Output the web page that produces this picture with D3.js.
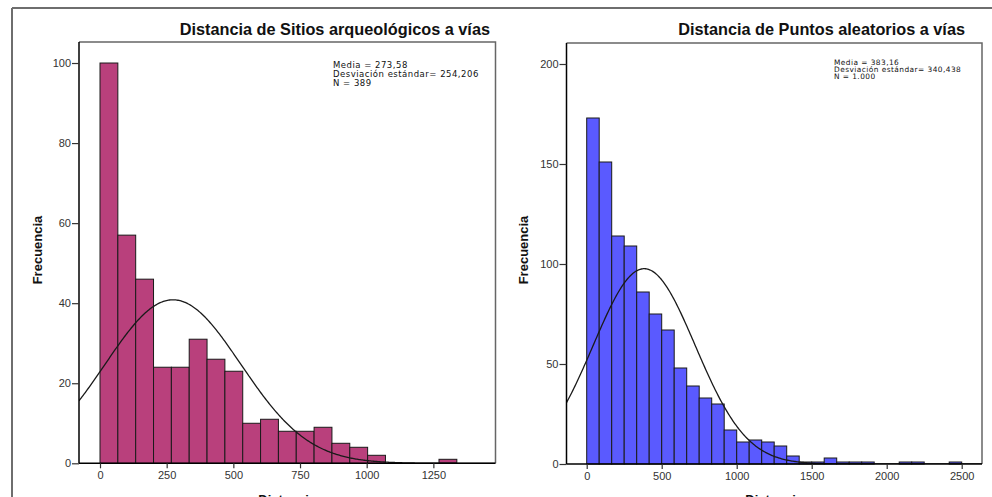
<!DOCTYPE html>
<html><head><meta charset="utf-8">
<script src="https://cdn.jsdelivr.net/npm/d3@7"></script>
<style>
html,body{margin:0;padding:0;background:#fff;}
svg{display:block;font-family:"Liberation Sans",Arial,sans-serif;}
</style></head>
<body>
<svg id="c" width="992" height="497"></svg>
<script>
// ---- data ----
const leftTitle = "Distancia de Sitios arqueológicos a vías";
const rightTitle = "Distancia de Puntos aleatorios a vías";
const leftCounts = [100,57,46,24,24,31,26,23,10,11,8,8,9,5,4,2,0,0,0,1];
const leftBinWidth = 66.9;
const leftStats = {mean:273.58, sd:254.206, n:389};
const leftStatsText = ["Media = 273,58","Desviación estándar= 254,206","N = 389"];
const leftYTicks = [0,20,40,60,80,100];
const leftXTicks = [0,250,500,750,1000,1250];

const rightCounts = [173,151,114,109,86,75,67,48,39,33,30,17,11,12,11,9,4,1,1,3,1,1,1,0,0,1,1,0,0,1];
const rightBinWidth = 2500/30;
const rightStats = {mean:383.16, sd:340.438, n:1000};
const rightStatsText = ["Media = 383,16","Desviación estándar= 340,438","N = 1.000"];
const rightYTicks = [0,50,100,150,200];
const rightXTicks = [0,500,1000,1500,2000,2500];

const svg = d3.select("#c");

// outer frame
svg.append("line").attr("x1",12).attr("x2",992).attr("y1",8).attr("y2",8).attr("stroke","#6e6e6e").attr("stroke-width",2);
svg.append("line").attr("x1",12).attr("x2",12).attr("y1",8).attr("y2",497).attr("stroke","#6e6e6e").attr("stroke-width",2);

function panel(cfg){
  const g = svg.append("g");
  const x = d3.scaleLinear().domain(cfg.xDomain).range([cfg.x0,cfg.x1]);
  const y = d3.scaleLinear().domain(cfg.yDomain).range([cfg.y1,cfg.y0]);
  const clipId = "clip"+cfg.id;
  svg.append("clipPath").attr("id",clipId).append("rect")
    .attr("x",cfg.x0).attr("y",cfg.y0).attr("width",cfg.x1-cfg.x0).attr("height",cfg.y1-cfg.y0);

  // plot frame top/right
  g.append("path").attr("d",`M${cfg.x0},${cfg.y0}H${cfg.x1}V${cfg.y1}`)
    .attr("fill","none").attr("stroke","#666").attr("stroke-width",1.5);

  // bars
  g.append("g").selectAll("rect").data(cfg.counts.map((c,i)=>({c,i})).filter(d=>d.c>0)).join("rect")
    .attr("x",d=>x(d.i*cfg.bw))
    .attr("width",d=>x((d.i+1)*cfg.bw)-x(d.i*cfg.bw))
    .attr("y",d=>y(d.c))
    .attr("height",d=>y(0)-y(d.c))
    .attr("fill",cfg.color).attr("stroke","#1a1a1a").attr("stroke-width",1);

  // normal curve
  const s = cfg.stats;
  const k = s.n*cfg.bw/(s.sd*Math.sqrt(2*Math.PI));
  const pts = d3.range(cfg.xDomain[0], cfg.xDomain[1]+1, (cfg.xDomain[1]-cfg.xDomain[0])/400)
    .map(v=>[v, k*Math.exp(-0.5*Math.pow((v-s.mean)/s.sd,2))]);
  g.append("path").datum(pts).attr("clip-path",`url(#${clipId})`)
    .attr("d",d3.line().x(d=>x(d[0])).y(d=>y(d[1])))
    .attr("fill","none").attr("stroke","#1a1a1a").attr("stroke-width",1.3);

  // axes
  const ya = g.append("g").attr("transform",`translate(${cfg.x0},0)`)
    .call(d3.axisLeft(y).tickValues(cfg.yTicks).tickFormat(d3.format("d")).tickSize(7).tickPadding(1).tickSizeOuter(0));
  ya.select(".domain").attr("d",`M0,${cfg.y0}V${cfg.y1}`).attr("stroke","#000").attr("stroke-width",1.5);
  const xa = g.append("g").attr("transform",`translate(0,${cfg.y1})`)
    .call(d3.axisBottom(x).tickValues(cfg.xTicks).tickFormat(d3.format("d")).tickSize(5).tickPadding(3).tickSizeOuter(0));
  xa.select(".domain").attr("d",`M${cfg.x0},0H${cfg.x1}`).attr("stroke","#000").attr("stroke-width",1.5);
  g.selectAll(".tick line").attr("stroke","#333").attr("stroke-width",1.2);
  g.selectAll(".tick text").attr("fill","#333").style("font-size","11px").style("font-family","'Liberation Sans',Arial,sans-serif");

  // title
  g.append("text").attr("x",cfg.titleX).attr("y",35).attr("text-anchor","end")
    .style("font-size","16.3px").style("font-weight","bold").attr("fill","#111").text(cfg.title);

  // stats
  g.append("g").selectAll("text").data(cfg.statsText).join("text")
    .attr("x",cfg.statsX).attr("y",(d,i)=>cfg.statsY+i*cfg.statsDy)
    .style("font-family","'DejaVu Sans',sans-serif")
    .style("letter-spacing",cfg.statsLs+"px")
    .style("font-size",cfg.statsFs+"px").attr("fill","#111").text(d=>d);

  // axis labels
  g.append("text").attr("transform",`translate(${cfg.ylabX},250) rotate(-90)`)
    .attr("text-anchor","middle").style("font-size","13px").style("font-weight","bold").attr("fill","#111").text("Frecuencia");
  g.append("text").attr("x",(cfg.x0+cfg.x1)/2).attr("y",504).attr("text-anchor","middle")
    .style("font-size","13px").style("font-weight","bold").attr("fill","#111").text("Distancia");
}

panel({id:"L", x0:79, x1:495.5, y0:42, y1:463.3,
  xDomain:[-78.75,1483], yDomain:[0,105.25],
  counts:leftCounts, bw:leftBinWidth, stats:leftStats, color:"#b9407c",
  yTicks:leftYTicks, xTicks:leftXTicks, title:leftTitle, titleX:490,
  statsText:leftStatsText, statsX:333, statsY:67.5, statsDy:9, statsFs:8.5, statsLs:0.5, ylabX:42});

panel({id:"R", x0:566.5, x1:982, y0:43, y1:464,
  xDomain:[-134.7,2635.3], yDomain:[0,210.5],
  counts:rightCounts, bw:rightBinWidth, stats:rightStats, color:"#5a5aff",
  yTicks:rightYTicks, xTicks:rightXTicks, title:rightTitle, titleX:965,
  statsText:rightStatsText, statsX:834, statsY:65, statsDy:7.2, statsFs:7.4, statsLs:0.45, ylabX:528});
</script>
</body></html>
